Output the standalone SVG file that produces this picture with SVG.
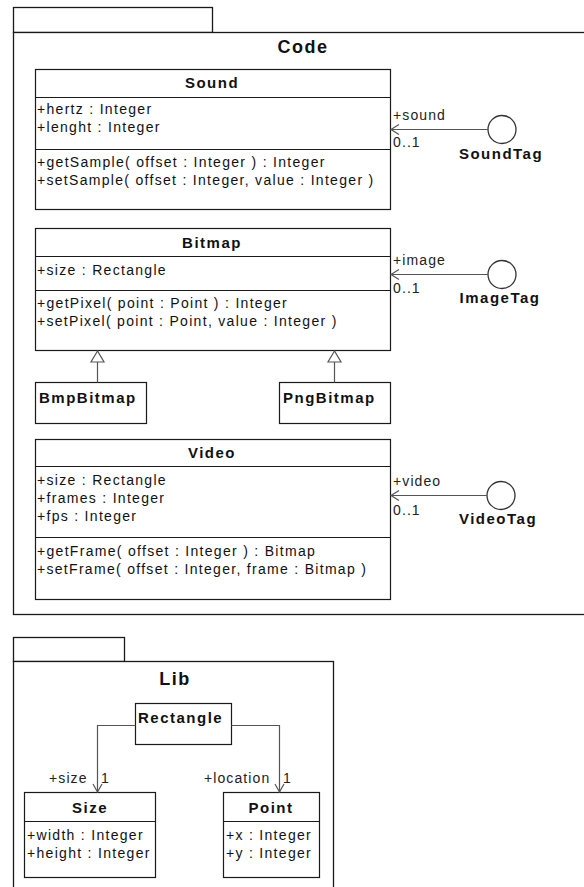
<svg xmlns="http://www.w3.org/2000/svg" width="584" height="887" viewBox="0 0 584 887">
<style>
.box{fill:#fff;stroke:#1a1a1a;stroke-width:1.2}
.sep{stroke:#1a1a1a;stroke-width:1.2;fill:none}
.pkg{fill:#fff;stroke:#1a1a1a;stroke-width:1.3}
.t{font-family:"Liberation Sans",Arial,sans-serif;font-size:14px;letter-spacing:1.3px;fill:#111}
.b{font-family:"Liberation Sans",Arial,sans-serif;font-size:15px;font-weight:bold;letter-spacing:1.5px;fill:#111}
.title{font-family:"Liberation Sans",Arial,sans-serif;font-size:18px;font-weight:bold;letter-spacing:1.5px;fill:#111;text-anchor:middle}
.c{text-anchor:middle}
.con{fill:none;stroke:#555;stroke-width:1.2}
.gen{fill:#fff;stroke:#555;stroke-width:1.2}
.lbl{font-family:"Liberation Sans",Arial,sans-serif;font-size:14px;letter-spacing:1.1px;fill:#222}
</style>
<rect width="584" height="887" fill="#fff"/>
<g id="pkg-code">
<rect class="pkg" x="13.5" y="7.5" width="199" height="25"/>
<rect class="pkg" x="13.5" y="32.5" width="580" height="582"/>
<text class="title" x="303" y="53">Code</text>
</g>
<g id="pkg-lib">
<rect class="pkg" x="13.5" y="637.5" width="111" height="24"/>
<rect class="pkg" x="13.5" y="661.5" width="320" height="240"/>
<text class="title" x="175" y="685">Lib</text>
</g>
<g id="sound">
<rect class="box" x="35.5" y="69.5" width="355" height="140"/>
<line class="sep" x1="35.5" y1="97.5" x2="390.5" y2="97.5"/>
<line class="sep" x1="35.5" y1="149.5" x2="390.5" y2="149.5"/>
<text class="b c" x="212" y="88">Sound</text>
<text class="t" x="37" y="114">+hertz : Integer</text>
<text class="t" x="37" y="132">+lenght : Integer</text>
<text class="t" x="37" y="167">+getSample( offset : Integer ) : Integer</text>
<text class="t" x="37" y="185">+setSample( offset : Integer, value : Integer )</text>
</g>
<g id="bitmap">
<rect class="box" x="35.5" y="228.5" width="355" height="122"/>
<line class="sep" x1="35.5" y1="256.5" x2="390.5" y2="256.5"/>
<line class="sep" x1="35.5" y1="290.5" x2="390.5" y2="290.5"/>
<text class="b c" x="212" y="248">Bitmap</text>
<text class="t" x="37" y="275">+size : Rectangle</text>
<text class="t" x="37" y="308">+getPixel( point : Point ) : Integer</text>
<text class="t" x="37" y="326">+setPixel( point : Point, value : Integer )</text>
</g>
<g id="bmpbitmap">
<rect class="box" x="35.5" y="382.5" width="111" height="41"/>
<text class="b" x="39" y="403">BmpBitmap</text>
</g>
<g id="pngbitmap">
<rect class="box" x="279.5" y="382.5" width="111" height="41"/>
<text class="b" x="283" y="403">PngBitmap</text>
</g>
<g id="video">
<rect class="box" x="35.5" y="439.5" width="355" height="160"/>
<line class="sep" x1="35.5" y1="466.5" x2="390.5" y2="466.5"/>
<line class="sep" x1="35.5" y1="537.5" x2="390.5" y2="537.5"/>
<text class="b c" x="212" y="458">Video</text>
<text class="t" x="37" y="485">+size : Rectangle</text>
<text class="t" x="37" y="503">+frames : Integer</text>
<text class="t" x="37" y="521">+fps : Integer</text>
<text class="t" x="37" y="556">+getFrame( offset : Integer ) : Bitmap</text>
<text class="t" x="37" y="574">+setFrame( offset : Integer, frame : Bitmap )</text>
</g>
<g id="soundtag">
<circle cx="502" cy="129.5" r="14" fill="#fff" stroke="#333" stroke-width="1.3"/>
<text class="b c" x="501" y="159">SoundTag</text>
</g>
<g id="imagetag">
<circle cx="502" cy="274.5" r="14" fill="#fff" stroke="#333" stroke-width="1.3"/>
<text class="b c" x="500" y="303">ImageTag</text>
</g>
<g id="videotag">
<circle cx="501" cy="495.5" r="14" fill="#fff" stroke="#333" stroke-width="1.3"/>
<text class="b c" x="498" y="524">VideoTag</text>
</g>
<g id="rectangle">
<rect class="box" x="135.5" y="703.5" width="96" height="41"/>
<text class="b" x="138" y="723">Rectangle</text>
</g>
<g id="size">
<rect class="box" x="24.5" y="792.5" width="131" height="85"/>
<line class="sep" x1="24.5" y1="821.5" x2="155.5" y2="821.5"/>
<text class="b c" x="90" y="813">Size</text>
<text class="t" x="27" y="840">+width : Integer</text>
<text class="t" x="27" y="858">+height : Integer</text>
</g>
<g id="point">
<rect class="box" x="223.5" y="792.5" width="96" height="85"/>
<line class="sep" x1="223.5" y1="821.5" x2="319.5" y2="821.5"/>
<text class="b c" x="271" y="813">Point</text>
<text class="t" x="226" y="840">+x : Integer</text>
<text class="t" x="226" y="858">+y : Integer</text>
</g>
<g id="connectors">
<line class="con" x1="488" y1="129.5" x2="391" y2="129.5"/>
<polyline class="con" points="399,124.5 391,129.5 399,134.5"/>
<text class="lbl" x="393" y="120">+sound</text>
<text class="lbl" x="393" y="147">0..1</text>
<line class="con" x1="488" y1="274.5" x2="391" y2="274.5"/>
<polyline class="con" points="399,269.5 391,274.5 399,279.5"/>
<text class="lbl" x="393" y="265">+image</text>
<text class="lbl" x="393" y="293">0..1</text>
<line class="con" x1="487" y1="495.5" x2="391" y2="495.5"/>
<polyline class="con" points="399,490.5 391,495.5 399,500.5"/>
<text class="lbl" x="393" y="486">+video</text>
<text class="lbl" x="393" y="515">0..1</text>
<line class="con" x1="97.5" y1="362" x2="97.5" y2="382.5"/>
<polygon class="gen" points="97.5,351 91,362 104,362"/>
<line class="con" x1="334.5" y1="362" x2="334.5" y2="382.5"/>
<polygon class="gen" points="334.5,351 328,362 341,362"/>
<polyline class="con" points="135.5,725.5 97.5,725.5 97.5,792"/>
<polyline class="con" points="93,784 97.5,792 102,784"/>
<text class="lbl" x="49" y="783">+size</text>
<text class="lbl" x="101" y="783">1</text>
<polyline class="con" points="231.5,725.5 279.5,725.5 279.5,792"/>
<polyline class="con" points="275,784 279.5,792 284,784"/>
<text class="lbl" x="204" y="783">+location</text>
<text class="lbl" x="283" y="783">1</text>
</g>
</svg>
